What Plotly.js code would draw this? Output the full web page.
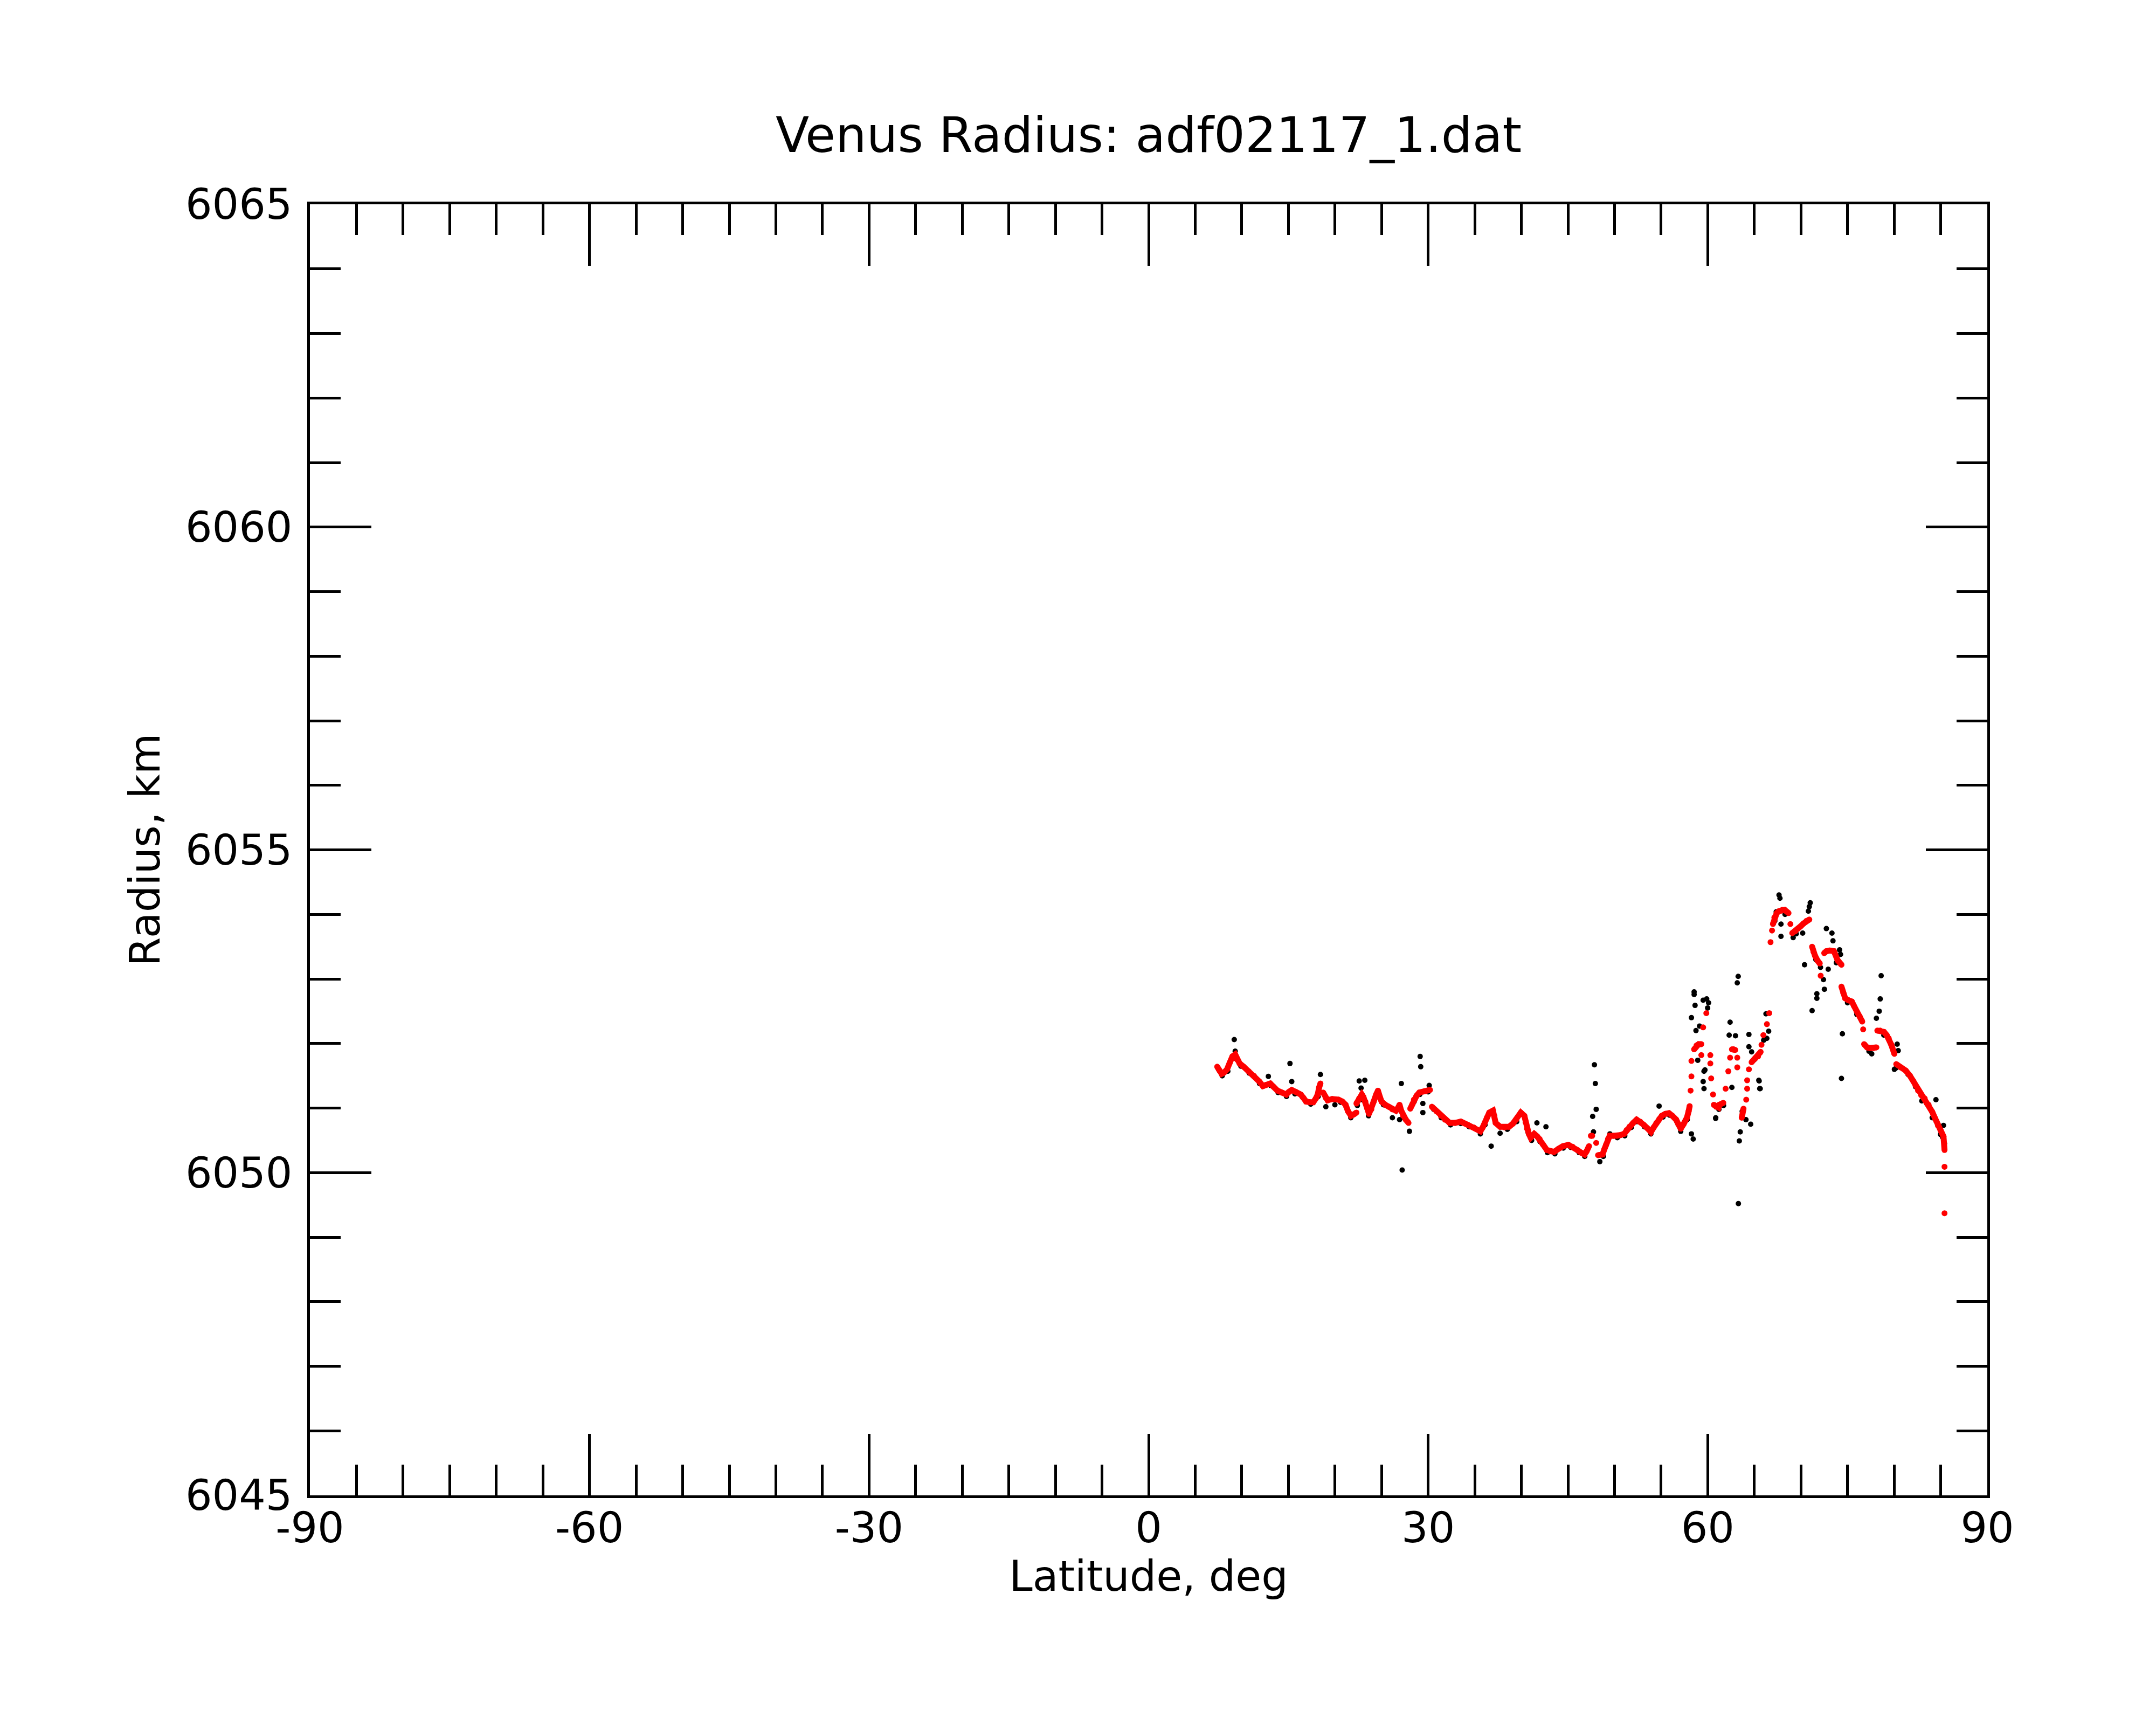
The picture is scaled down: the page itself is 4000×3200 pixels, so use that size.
<!DOCTYPE html>
<html>
<head>
<meta charset="utf-8">
<script src="https://cdn.plot.ly/plotly-3.0.1.min.js"></script>
<style>
  html, body { margin: 0; padding: 0; background: #fff; }
  #chart { width: 4000px; height: 3200px; }
</style>
</head>
<body>
<div id="chart"></div>
<script>
// smoothed radius (red), null = break in the curve
var redLat = [
  7.36, 7.6, 7.84, 8.1, 8.42, 8.7, 9.0, 9.29, 9.5, 9.77, 10.2, 10.73, 11.3, 11.89, 12.27, 12.6,
  13.05, 13.4, 13.82, 14.3, 14.78, 15.05, 15.36, 15.8, 16.32, 16.6, 16.9, 17.3, 17.67, 17.95,
  18.15, 18.3, 18.44, null,
  18.73, 19.0, 19.21, 19.7, 20.37, 20.8, 21.14, 21.4, 21.72, 22.0, 22.3, null,
  22.3, 22.6, 22.88, 23.05, 23.26, 23.45, 23.65, 23.9, 24.15, 24.42, 24.61, 24.8, 25.0, 25.4,
  25.77, 26.15, 26.54, 26.75, 26.93, 27.1, 27.31, 27.6, 27.89, null,
  28.08, 28.3, 28.47, 28.75, 29.05, 29.6, 30.2, null,
  30.4, 30.9, 31.36, 31.8, 32.3, 32.9, 33.5, 34.25, 34.9, 35.6, 35.85, 36.08, 36.3, 36.56,
  36.95, 37.1, 37.24, 37.72, 38.2, 38.68, 39.1, 39.45, 39.94, 40.32, 40.45, 40.61, 40.8, 41.0,
  41.38, 41.7, 41.96, 42.3, 42.73, 43.1, 43.5, 44.0, 44.47, 45.05, 45.5, 46.0, 46.4, 46.78,
  47.0, 47.26, null,
  47.46, 47.6, null,
  48.03, null,
  48.23, 48.71, 48.9, 49.09, 49.3, 49.48, 49.9, 50.25, 50.6, 51.02, 51.3, 51.6, 52.0, 52.37,
  52.75, 53.14, 53.5, 53.91, 54.2, 54.49, 54.8, 55.07, 55.45, 55.84, 56.2, 56.61, 56.85, 57.1,
  57.4, 57.77, 57.95, 58.06, null,
  58.16, null, 58.25, null, 58.25, null,
  58.54, 58.8, 59.03, 59.31, null,
  59.31, null, 59.51, null, 59.85, null, 60.28, null, 60.28, null, 60.37, null, 60.57, null,
  60.66, 60.9, 61.16, 61.24, 61.67, null,
  61.92, null, 62.21, null, 62.4, null, 62.6, 62.78, 62.95, null, 63.17, null, 63.17, null,
  63.65, 63.84, null,
  64.13, null, 64.23, null, 64.23, null, 64.42, null,
  64.71, 65.1, 65.4, 65.68, null,
  65.77, null, 65.97, null, 66.35, null, 66.6, null,
  66.74, null, 66.9, null,
  67.0, 67.15, 67.4, 67.65, 68.0, 68.26, 68.5, 68.67, null,
  68.87, null,
  69.07, 69.4, 69.68, 70.0, 70.29, 70.6, 70.9, null,
  71.2, 71.35, 71.51, 71.8, 72.02, null,
  72.12, null,
  72.5, 72.73, 73.1, 73.54, 73.94, 74.35, null,
  74.35, 74.55, 74.75, 75.1, 75.46, 75.7, 75.97, 76.3, 76.58, null,
  76.68, null,
  76.78, 77.1, 77.39, 77.8, 78.1, null,
  78.2, 78.5, 78.91, 79.2, 79.42, 79.7, 80.03, null,
  80.23, 80.7, 81.25, 81.7, 82.06, 82.3, 82.57, 82.9, 83.28, 83.7, 84.09, 84.4, 84.7, 85.0,
  85.3, 85.41, null,
  85.41, null, 85.41
];
var redRad = [
  6051.64, 6051.58, 6051.53, 6051.55, 6051.60, 6051.70, 6051.80, 6051.83, 6051.75, 6051.69, 6051.64, 6051.57, 6051.50, 6051.41, 6051.34, 6051.36,
  6051.38, 6051.33, 6051.27, 6051.24, 6051.21, 6051.25, 6051.28, 6051.25, 6051.21, 6051.16, 6051.10, 6051.09, 6051.09, 6051.15,
  6051.21, 6051.32, 6051.38, null,
  6051.24, 6051.16, 6051.12, 6051.14, 6051.13, 6051.10, 6051.05, 6050.95, 6050.88, 6050.90, 6050.93, null,
  6051.07, 6051.15, 6051.21, 6051.17, 6051.10, 6051.00, 6050.91, 6050.98, 6051.10, 6051.21, 6051.27, 6051.18, 6051.10, 6051.05,
  6051.02, 6050.98, 6050.96, 6051.00, 6051.05, 6050.96, 6050.88, 6050.82, 6050.77, null,
  6050.99, 6051.06, 6051.13, 6051.19, 6051.24, 6051.26, 6051.28, null,
  6051.02, 6050.95, 6050.88, 6050.82, 6050.77, 6050.77, 6050.79, 6050.74, 6050.70, 6050.64, 6050.70, 6050.77, 6050.85, 6050.93,
  6050.96, 6050.88, 6050.77, 6050.71, 6050.70, 6050.71, 6050.76, 6050.82, 6050.93, 6050.88, 6050.78, 6050.68, 6050.60, 6050.54,
  6050.60, 6050.56, 6050.52, 6050.44, 6050.35, 6050.33, 6050.32, 6050.37, 6050.41, 6050.43, 6050.40, 6050.35, 6050.31, 6050.28,
  6050.33, 6050.41, null,
  6050.57, 6050.57, null,
  6050.46, null,
  6050.27, 6050.28, 6050.36, 6050.43, 6050.52, 6050.57, 6050.57, 6050.57, 6050.58, 6050.60, 6050.66, 6050.71, 6050.77, 6050.82,
  6050.79, 6050.74, 6050.69, 6050.63, 6050.70, 6050.77, 6050.83, 6050.88, 6050.91, 6050.92, 6050.88, 6050.82, 6050.75, 6050.68,
  6050.75, 6050.85, 6050.95, 6051.03, null,
  6051.27, null, 6051.49, null, 6051.73, null,
  6051.91, 6051.97, 6051.99, 6051.99, null,
  6051.82, null, 6052.25, null, 6052.47, null, 6051.82, null, 6051.69, null, 6051.46, null, 6051.21, null,
  6051.05, 6051.02, 6051.01, 6051.05, 6051.08, null,
  6051.30, null, 6051.57, null, 6051.78, null, 6051.91, 6051.91, 6051.90, null, 6051.78, null, 6051.63, null,
  6050.85, 6050.99, null,
  6051.13, null, 6051.30, null, 6051.43, null, 6051.60, null,
  6051.71, 6051.77, 6051.80, 6051.87, null,
  6051.98, null, 6052.13, null, 6052.30, null, 6052.47, null,
  6053.57, null, 6053.75, null,
  6053.85, 6053.95, 6054.02, 6054.05, 6054.07, 6054.07, 6054.04, 6054.02, null,
  6053.85, null,
  6053.71, 6053.74, 6053.78, 6053.82, 6053.86, 6053.90, 6053.92, null,
  6053.50, 6053.42, 6053.36, 6053.28, 6053.24, null,
  6053.05, null,
  6053.40, 6053.43, 6053.44, 6053.43, 6053.29, 6053.22, null,
  6052.88, 6052.78, 6052.70, 6052.67, 6052.65, 6052.58, 6052.50, 6052.42, 6052.34, null,
  6052.22, null,
  6051.99, 6051.94, 6051.93, 6051.93, 6051.94, null,
  6052.20, 6052.20, 6052.18, 6052.13, 6052.08, 6051.98, 6051.84, null,
  6051.68, 6051.63, 6051.58, 6051.50, 6051.42, 6051.35, 6051.27, 6051.20, 6051.15, 6051.05, 6050.94, 6050.84, 6050.73, 6050.65,
  6050.56, 6050.35, null,
  6050.09, null, 6049.37
];

// raw radius points (black)
var blackLat = [
  7.5, 7.9, 8.5, 9.1, 9.9, 10.8, 11.9, 12.85, 13.1, 13.9, 14.8, 15.7, 16.5, 17.4, 18.2, 19.02,
  19.99, 20.6, 21.2, 21.7, 22.4, 23.0, 23.6, 24.5, 25.2, 26.16, 26.93, 27.4, 27.99, 28.5, 29.1,
  30.0, 30.6, 31.4, 32.4, 33.5, 34.4, 35.6, 36.1, 36.76, 36.6, 37.72, 38.5, 39.5, 40.0, 40.7,
  41.1, 41.67, 42.0, 42.64, 42.8, 43.6, 44.5, 45.3, 46.2, 46.8, 47.65, 47.74, 47.84, 47.94, 48.03,
  48.42, 48.8, 49.5, 50.3, 51.1, 51.8, 52.4, 53.2, 53.9, 54.78, 55.2, 55.9, 56.7, 57.1, 57.8,
  58.25, 58.44,
  9.19, 9.29, 15.17, 15.36, 18.44, 22.6, 23.2, 22.8, 22.9, 27.12, 27.21, 29.14, 29.2, 29.43,
  29.43, 30.11,
  58.54, 58.54, 58.64, 58.25, 59.51, 59.89, 60.09, 59.99, 62.4, 62.3, 62.98, 58.74, 59.12,
  64.42, 64.42, 64.71, 66.25, 59.6, 59.51, 59.6, 58.93, 62.59, 65.48, 65.58, 60.86, 63.27, 63.17,
  59.7, 60.85, 63.49, 63.39, 63.29, 64.1, 64.61, 65.52, 65.63, 66.54, 66.34, 61.2, 61.7, 63.7,
  65.0, 66.0,
  67.65, 67.75, 67.35, 67.86, 67.86, 71.0, 70.9, 70.8, 69.17, 70.19, 72.73, 73.33, 73.44, 74.15,
  74.25, 70.39, 72.93, 72.42, 72.52, 71.71, 71.71, 71.2, 78.61, 78.51, 78.4, 78.1, 74.45, 74.35,
  80.33, 80.44, 80.03, 77.6, 82.97, 84.49, 84.09, 85.3, 84.99,
  67.2, 68.3, 69.5, 71.6, 72.1, 73.8, 75.0, 76.0, 77.3, 78.9, 80.2, 81.5, 82.3, 83.5, 84.5, 85.2, 85.4
];
var blackRad = [
  6051.60, 6051.50, 6051.57, 6051.77, 6051.65, 6051.54, 6051.38, 6051.49, 6051.35, 6051.24, 6051.18, 6051.22, 6051.17, 6051.06, 6051.18, 6051.02,
  6051.05, 6051.09, 6051.02, 6050.85, 6051.04, 6051.18, 6050.88, 6051.20, 6051.05, 6050.85, 6050.82, 6050.85, 6050.64, 6051.10, 6051.21,
  6051.25, 6050.98, 6050.85, 6050.74, 6050.76, 6050.71, 6050.60, 6050.74, 6050.41, 6050.92, 6050.61, 6050.67, 6050.79, 6050.92, 6050.63,
  6050.50, 6050.77, 6050.48, 6050.71, 6050.31, 6050.29, 6050.38, 6050.39, 6050.31, 6050.25, 6050.87, 6050.63, 6051.67, 6051.38, 6050.98,
  6050.17, 6050.25, 6050.60, 6050.54, 6050.57, 6050.70, 6050.79, 6050.71, 6050.60, 6051.03, 6050.86, 6050.89, 6050.79, 6050.64, 6050.82,
  6050.60, 6050.52,
  6052.06, 6051.88, 6051.69, 6051.41, 6051.52, 6051.42, 6051.43, 6051.31, 6051.13, 6051.38, 6050.04, 6051.80, 6051.64, 6051.07,
  6050.93, 6051.35,
  6052.80, 6052.76, 6052.59, 6052.40, 6052.67, 6052.69, 6052.63, 6052.55, 6052.33, 6052.13, 6052.12, 6052.20, 6052.27,
  6052.14, 6051.95, 6051.87, 6052.46, 6051.57, 6051.41, 6051.30, 6051.74, 6051.32, 6051.43, 6051.30, 6050.85, 6053.04, 6052.94,
  6051.59, 6050.84, 6050.63, 6050.49, 6049.52, 6050.82, 6050.75, 6051.42, 6051.30, 6052.19, 6052.08, 6050.98, 6051.04, 6050.95,
  6051.75, 6052.05,
  6054.30, 6054.25, 6054.04, 6053.85, 6053.66, 6054.18, 6054.12, 6054.05, 6053.64, 6053.71, 6053.78, 6053.71, 6053.59, 6053.45,
  6053.38, 6053.22, 6053.15, 6052.99, 6052.84, 6052.77, 6052.70, 6052.51, 6053.05, 6052.69, 6052.50, 6052.39, 6052.15, 6051.46,
  6051.99, 6051.89, 6051.60, 6051.84, 6051.11, 6051.13, 6050.85, 6050.73, 6050.59,
  6053.90, 6054.00, 6053.70, 6053.30, 6053.18, 6053.25, 6052.63, 6052.45, 6051.88, 6052.13, 6051.62, 6051.52, 6051.33, 6051.07, 6050.80, 6050.55, 6050.45
];

var xTickVals = [-90, -60, -30, 0, 30, 60, 90];
var xTickText = ['-90', '-60', '-30', '0', '30', '60', '90'];
var yTickVals = [6045, 6050, 6055, 6060, 6065];

var traceRaw = {
  x: blackLat,
  y: blackRad,
  mode: 'markers',
  type: 'scatter',
  marker: { color: '#000000', size: 10 },
  hoverinfo: 'skip'
};
var traceSmooth = {
  x: redLat,
  y: redRad,
  mode: 'lines+markers',
  type: 'scatter',
  connectgaps: false,
  line: { color: '#ff0000', width: 11 },
  marker: { color: '#ff0000', size: 11 },
  hoverinfo: 'skip'
};

var tickFont = { family: 'DejaVu Sans', size: 78, color: '#000' };

var layout = {
  width: 4000,
  height: 3200,
  paper_bgcolor: '#fff',
  plot_bgcolor: '#fff',
  showlegend: false,
  margin: { l: 575, r: 313, t: 379, b: 426, pad: 0 },
  font: { family: 'DejaVu Sans', color: '#000' },
  title: {
    text: 'Venus Radius: adf02117_1.dat',
    font: { family: 'DejaVu Sans', size: 91, color: '#000' },
    x: 0.5, xref: 'paper', xanchor: 'center',
    y: 1 - 250 / 3200, yref: 'container', yanchor: 'middle'
  },
  xaxis: {
    range: [-90, 90],
    tickmode: 'array',
    tickvals: xTickVals,
    ticktext: xTickText,
    ticks: 'inside',
    ticklen: 114,
    tickwidth: 5,
    tickcolor: '#000',
    minor: { dtick: 5, ticks: 'inside', ticklen: 57, tickwidth: 5, tickcolor: '#000', showgrid: false },
    showline: true,
    linewidth: 5,
    linecolor: '#000',
    mirror: 'ticks',
    showgrid: false,
    zeroline: false,
    tickfont: tickFont,
    ticklabelstandoff: -12,
    title: { text: 'Latitude, deg', font: { family: 'DejaVu Sans', size: 78, color: '#000' }, standoff: 0 }
  },
  yaxis: {
    range: [6045, 6065],
    tickmode: 'array',
    tickvals: yTickVals,
    ticks: 'inside',
    ticklen: 114,
    tickwidth: 5,
    tickcolor: '#000',
    minor: { dtick: 1, ticks: 'inside', ticklen: 57, tickwidth: 5, tickcolor: '#000', showgrid: false },
    showline: true,
    linewidth: 5,
    linecolor: '#000',
    mirror: 'ticks',
    showgrid: false,
    zeroline: false,
    tickfont: tickFont,
    ticklabelstandoff: 12,
    title: { text: 'Radius, km', font: { family: 'DejaVu Sans', size: 78, color: '#000' }, standoff: 23 }
  }
};

Plotly.newPlot('chart', [traceRaw, traceSmooth], layout, { staticPlot: true, displayModeBar: false });
</script>
</body>
</html>
